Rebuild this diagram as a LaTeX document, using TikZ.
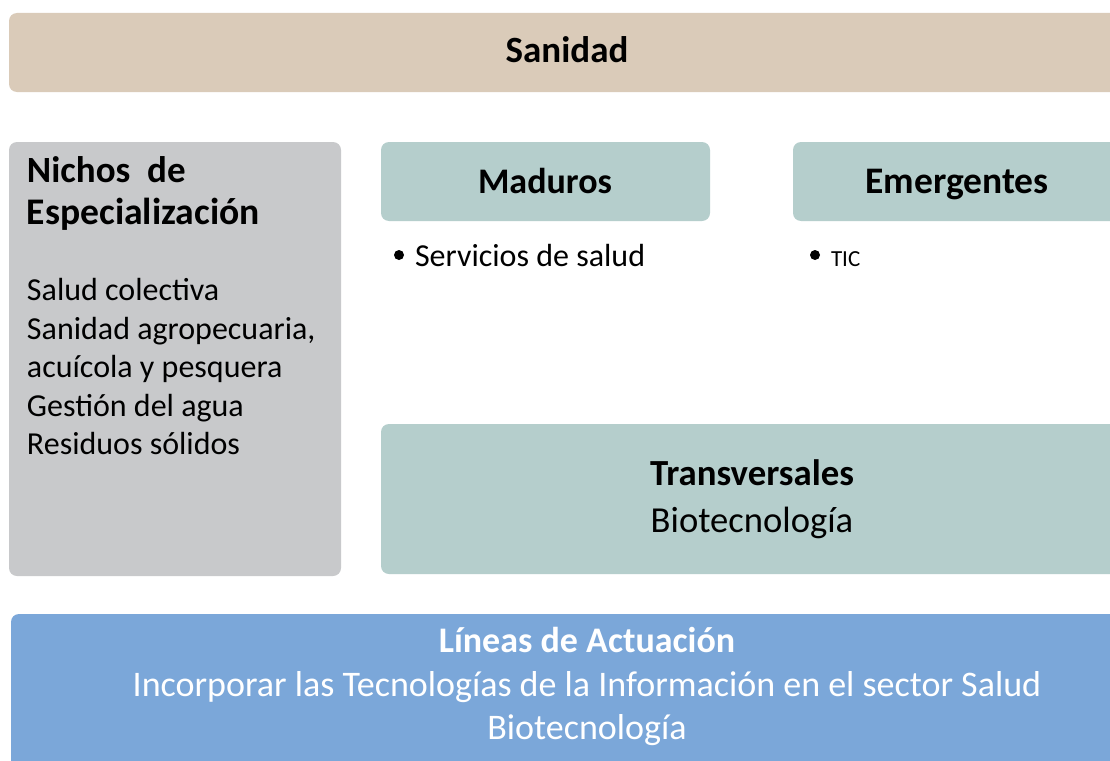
\documentclass[tikz,border=0pt]{standalone}
\usepackage{fontspec}
\setmainfont{Carlito}
\definecolor{sand}{HTML}{DACBB9}
\definecolor{greyb}{HTML}{C8C9CB}
\definecolor{teal}{HTML}{B5CECC}
\definecolor{blueb}{HTML}{7BA7D9}
\newcommand{\fs}[1]{\fontsize{#1pt}{1.2\dimexpr #1pt\relax}\selectfont}
\begin{document}
\begin{tikzpicture}[x=1pt,y=-1pt,
  panel/.style={rounded corners=8pt, draw=none},
  txt/.style={inner sep=0pt, outer sep=0pt, anchor=base},
  head/.style={txt, font=\fs{37}\bfseries},
  body/.style={txt, anchor=base west, font=\fs{32}},
  bullet/.style={circle, fill=black, inner sep=0pt, minimum size=10pt}]
\clip (0,0) rectangle (1110,760);
\fill[white] (0,0) rectangle (1110,760);
% boxes
\fill[panel, sand] (9,13) rectangle (1130,92);
\fill[panel, greyb] (9,142) rectangle (341,576);
\fill[panel, teal] (381,142) rectangle (710,221);
\fill[panel, teal] (793,142) rectangle (1130,221);
\fill[panel, teal] (381,424) rectangle (1130,574);
\fill[panel, blueb] (11,614) rectangle (1130,780);
% texts
\node[head] (san) at (567,63) {Sanidad};
\node[head, anchor=base west] (nichos1) at (27,182) {Nichos\ \ de};
\node[head, anchor=base west, font=\fs{37.6}\bfseries] (nichos2) at (27,224) {Especialización};
\node[body] (l1) at (27,300) {Salud colectiva};
\node[body] (l2) at (27,339) {Sanidad agropecuaria,};
\node[body] (l3) at (27,377) {acuícola y pesquera};
\node[body] (l4) at (27,416) {Gestión del agua};
\node[body] (l5) at (27,454) {Residuos sólidos};
\node[head, font=\fs{36}\bfseries] (mad) at (545,193) {Maduros};
\node[head, font=\fs{37.5}\bfseries] (emer) at (957,193) {Emergentes};
\node[bullet] (b1) at (399,255) {};
\node[body] (serv) at (415,266) {Servicios de salud};
\node[bullet] (b2) at (815,255) {};
\node[body, font=\fs{23}] (tic) at (831,266) {TIC};
\node[head, font=\fs{36.8}\bfseries] (trans) at (752,485) {Transversales};
\node[txt, font=\fs{36.6}] (bio1) at (752,532) {Biotecnología};
\node[head, font=\fs{36}\bfseries, text=white] (lin) at (587,652) {Líneas de Actuación};
\node[txt, font=\fs{36}, text=white] (inc) at (587,696) {Incorporar las Tecnologías de la Información en el sector Salud};
\node[txt, font=\fs{36}, text=white] (bio2) at (587,739) {Biotecnología};
\end{tikzpicture}
\end{document}
